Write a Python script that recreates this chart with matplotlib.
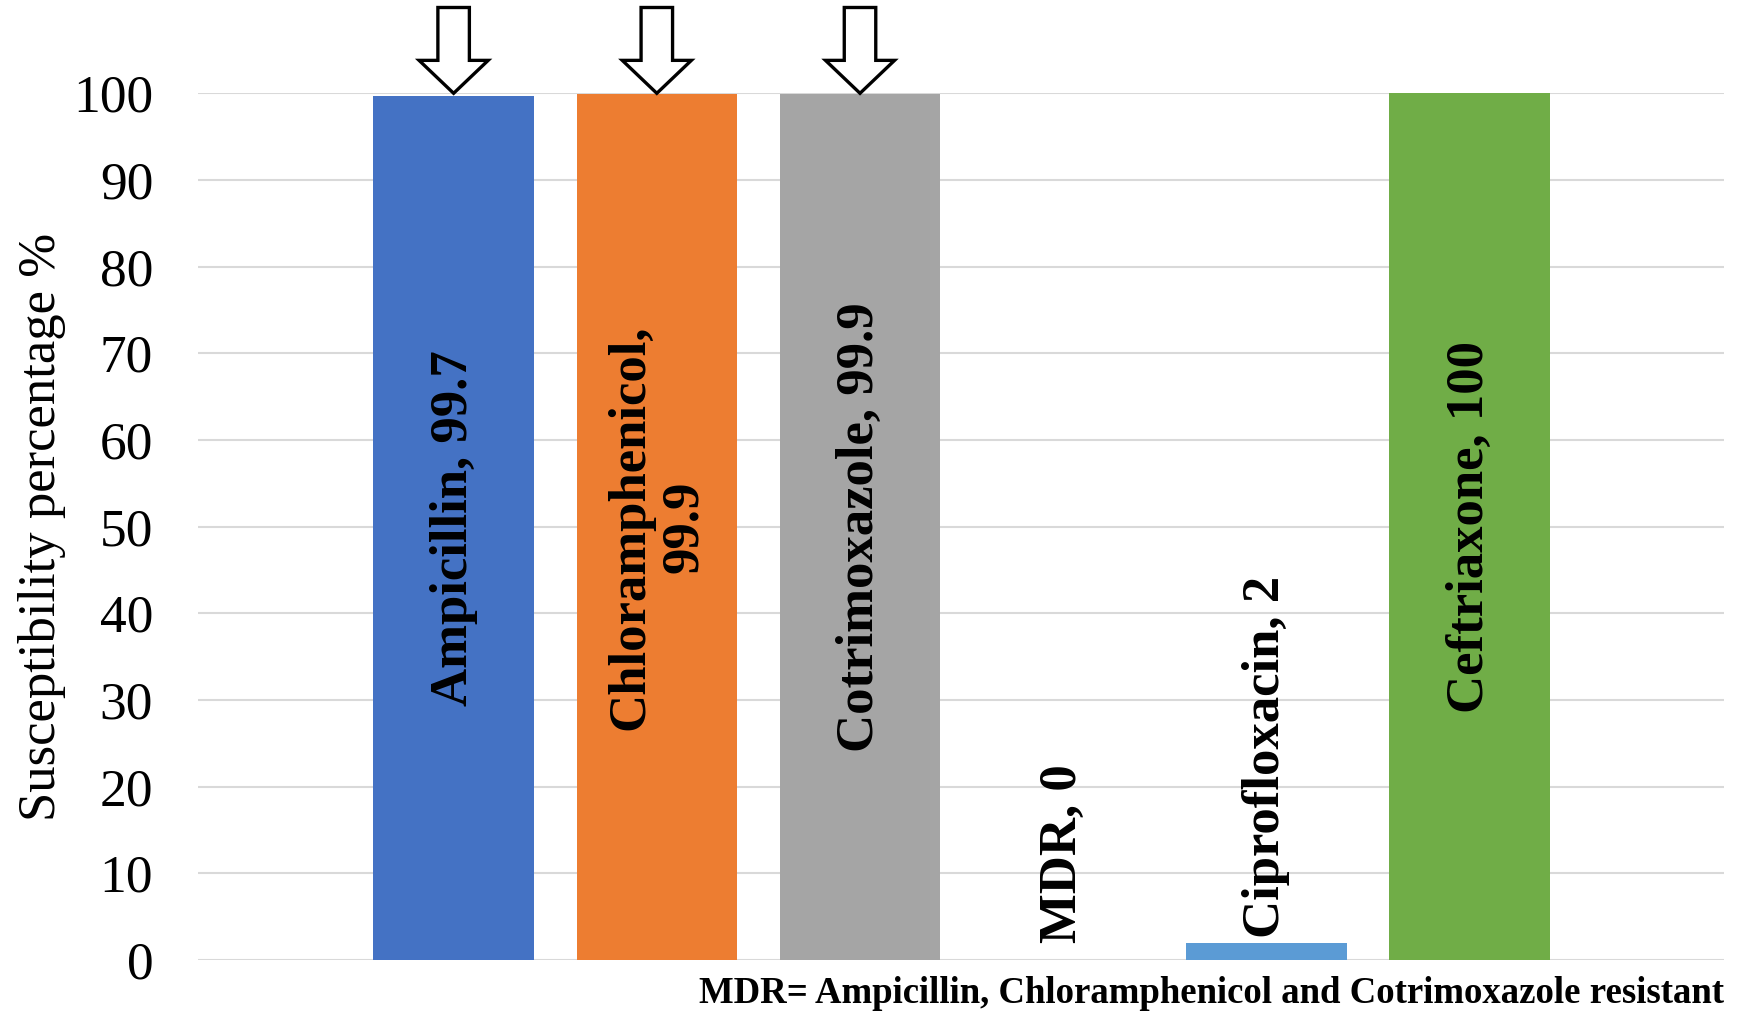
import matplotlib
matplotlib.use("Agg")
import matplotlib.pyplot as plt
from matplotlib.patches import Polygon
import numpy as np

# Susceptibility data
drugs = ["Ampicillin", "Chloramphenicol", "Cotrimoxazole", "MDR", "Ciprofloxacin", "Ceftriaxone"]
susceptibility = [99.7, 99.9, 99.9, 0, 2, 100]
bar_labels = ["Ampicillin, 99.7", "Chloramphenicol,\n99.9", "Cotrimoxazole, 99.9",
              "MDR, 0", "Ciprofloxacin, 2", "Ceftriaxone, 100"]
colors = ["#4472C4", "#ED7D31", "#A5A5A5", "#FFC000", "#5B9BD5", "#70AD47"]
flagged = ["Ampicillin", "Chloramphenicol", "Cotrimoxazole"]
y_ticks = [0, 10, 20, 30, 40, 50, 60, 70, 80, 90, 100]
footnote = "MDR= Ampicillin, Chloramphenicol and Cotrimoxazole resistant"

plt.rcParams["font.family"] = ["Liberation Serif", "DejaVu Serif"]

fig = plt.figure(figsize=(17.41, 10.13), dpi=100)
ax = fig.add_axes([0.1135, 0.0523, 0.8765, 0.8556])

x = np.arange(len(drugs))
ax.bar(x, susceptibility, width=0.79, color=colors, zorder=2)

ax.set_xlim(-1.26, len(drugs) - 1 + 1.25)
ax.set_ylim(0, 100)
ax.set_yticks(y_ticks)
ax.set_yticklabels([str(t) for t in y_ticks], fontsize=38.5)
ax.tick_params(axis="y", length=0, pad=32)
ax.set_xticks([])
for s in ax.spines.values():
    s.set_visible(False)
ax.grid(axis="y", color="#d9d9d9", linewidth=1.5, zorder=0)
ax.set_axisbelow(True)
ax.set_ylabel("Susceptibility percentage %", fontsize=38, labelpad=5)

# Value labels: centred in tall bars, just above short ones
for xi, v, lab in zip(x, susceptibility, bar_labels):
    if v > 20:
        ax.text(xi, v / 2, lab, rotation=90, ha="center", va="center",
                fontsize=38, fontweight="bold", linespacing=1.15, zorder=3)
    else:
        ax.text(xi, max(v + 0.5, 2.0), lab, rotation=90, ha="center", va="bottom",
                fontsize=38, fontweight="bold", zorder=3)

# Hollow down arrows marking the resistance-defining drugs
def down_arrow(cx, tip, top, head_h, head_w, shaft_w):
    pts = [(cx - shaft_w / 2, top), (cx + shaft_w / 2, top),
           (cx + shaft_w / 2, tip + head_h), (cx + head_w / 2, tip + head_h),
           (cx, tip), (cx - head_w / 2, tip + head_h),
           (cx - shaft_w / 2, tip + head_h)]
    return Polygon(pts, closed=True, facecolor="white", edgecolor="black",
                   linewidth=2.4, clip_on=False, zorder=4)

for name in flagged:
    i = drugs.index(name)
    ax.add_patch(down_arrow(x[i], 100, 109.9, 3.8, 0.34, 0.155))

fig.text(0.990, 0.0099, footnote, ha="right", va="baseline",
         fontsize=26.5, fontweight="bold")

fig.savefig("out.png", dpi=100)
